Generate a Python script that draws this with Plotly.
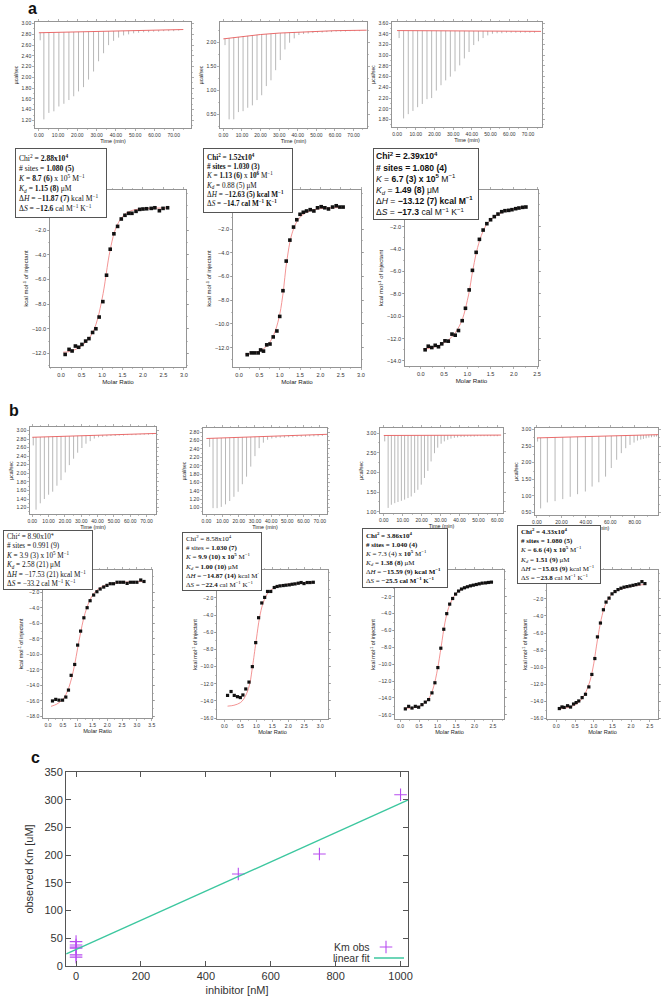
import plotly.graph_objects as go
import numpy as np

W, H = 661, 999

# ---------------- DATA ----------------
# panel a raw thermograms: injection times (min), peak values (ucal/sec), baseline
a1_inj_t = [0.7, 2.6, 5.2, 7.8, 10.4, 13.0, 15.6, 18.1, 20.6, 23.2, 25.8, 28.4, 31.0, 33.6, 36.2,
            38.8, 41.4, 44.0, 46.6, 49.2, 51.8, 54.4, 57.0, 59.6, 62.2, 64.8, 67.4, 70.0, 72.6]
a1_peak = [2.69, 1.22, 1.34, 1.37, 1.46, 1.51, 1.58, 1.65, 1.74, 1.82, 1.96, 2.11, 2.30, 2.45, 2.60,
           2.68, 2.74, 2.78, 2.80, 2.82, 2.83, 2.84, 2.84, 2.85, 2.85, 2.86, 2.86, 2.86, 2.87]
a1_base_t = [0, 75]
a1_base_y = [2.83, 2.89]

a2_inj_t = [0.9, 3.1, 5.6, 8.1, 10.6, 13.1, 15.6, 18.1, 20.6, 23.1, 25.6, 28.1, 30.6, 33.1, 35.6,
            38.1, 40.6, 43.1, 45.6, 48.1, 50.6, 53.1, 55.6, 58.1, 60.6, 63.1, 65.6, 68.1, 70.6, 73.1]
a2_peak = [1.94, 0.40, 0.40, 0.55, 0.57, 0.64, 0.69, 0.80, 0.90, 1.09, 1.21, 1.42, 1.63, 1.85, 1.99,
           2.08, 2.15, 2.17, 2.18, 2.19, 2.20, 2.20, 2.21, 2.21, 2.22, 2.22, 2.22, 2.23, 2.23, 2.23]
a2_base_t = [0, 10, 20, 30, 40, 50, 60, 77]
a2_base_y = [2.07, 2.12, 2.16, 2.19, 2.21, 2.23, 2.24, 2.25]

a3_inj_t = [1.1, 3.5, 6.0, 8.5, 11.0, 13.5, 16.0, 18.5, 21.0, 23.5, 26.0, 28.5, 31.0, 33.5, 36.0,
            38.5, 41.0, 43.5, 46.0, 48.5, 51.0, 53.5, 56.0, 58.5, 61.0, 63.5, 66.0, 68.5, 71.0, 73.5]
a3_peak = [3.32, 1.82, 1.90, 1.96, 2.03, 2.09, 2.18, 2.20, 2.34, 2.44, 2.53, 2.60, 2.70, 2.81, 2.94,
           3.06, 3.19, 3.26, 3.32, 3.37, 3.40, 3.41, 3.41, 3.42, 3.42, 3.42, 3.42, 3.42, 3.42, 3.42]
a3_base_t = [0, 77]
a3_base_y = [3.46, 3.445]

# panel b raw thermograms
b1_inj_t = [0.6, 2.3, 4.9, 7.4, 10.0, 12.5, 15.1, 17.6, 20.2, 22.7, 25.3, 27.8, 30.4, 32.9, 35.5,
            38.0, 40.6, 43.1, 45.7, 48.2, 50.8, 53.3, 55.9, 58.4, 61.0, 63.5, 66.1, 68.6, 71.2, 73.7]
b1_peak = [2.65, 1.15, 1.30, 1.40, 1.50, 1.57, 1.71, 1.84, 2.02, 2.19, 2.34, 2.48, 2.59, 2.69, 2.75,
           2.81, 2.84, 2.85, 2.86, 2.87, 2.87, 2.88, 2.88, 2.89, 2.89, 2.89, 2.90, 2.90, 2.90, 2.91]
b1_base_t = [0, 76]
b1_base_y = [2.84, 2.93]

b2_inj_t = [2.0, 4.1, 6.6, 9.2, 11.8, 14.4, 17.0, 19.6, 22.2, 24.8, 27.4, 30.0, 32.6, 35.2,
            37.8, 40.4, 43.0, 45.6, 48.2, 50.8, 53.4, 56.0, 58.6, 61.2, 63.8, 66.4, 69.0, 71.6]
b2_peak = [2.45, 0.99, 0.99, 1.02, 1.08, 1.16, 1.26, 1.38, 1.56, 1.74, 1.98, 2.23, 2.42, 2.55,
           2.62, 2.65, 2.66, 2.67, 2.67, 2.68, 2.68, 2.69, 2.69, 2.69, 2.70, 2.70, 2.70, 2.71]
b2_base_t = [0, 75]
b2_base_y = [2.65, 2.75]

b3_inj_t = [0.5, 2.3, 4.0, 5.8, 7.5, 9.3, 11.0, 12.8, 14.5, 16.3, 18.0, 19.8, 21.5, 23.3, 25.0,
            26.8, 28.5, 30.3, 32.0, 33.8, 35.5, 37.3, 39.0, 40.8, 42.5, 44.3, 46.0, 47.8, 49.5,
            51.3, 53.0, 54.8, 56.5, 58.3, 60.0]
b3_peak = [2.79, 1.10, 1.18, 1.22, 1.25, 1.28, 1.31, 1.35, 1.39, 1.48, 1.56, 1.69, 1.86, 2.04, 2.28,
           2.49, 2.63, 2.73, 2.79, 2.83, 2.86, 2.88, 2.89, 2.90, 2.90, 2.91, 2.91, 2.91, 2.92,
           2.92, 2.92, 2.92, 2.92, 2.92, 2.92]
b3_base_t = [0, 62]
b3_base_y = [2.94, 2.95]

b4_inj_t = [0.5, 3.0, 8.5, 14.8, 21.1, 27.2, 33.2, 39.6, 45.1, 50.6, 56.1, 60.8, 65.2, 69.0, 72.6,
            76.1, 79.4, 82.2, 84.9, 87.1, 89.3, 91.5, 93.7, 95.9, 97.8]
b4_peak = [2.64, 0.62, 0.80, 0.84, 0.90, 0.97, 1.05, 1.13, 1.28, 1.41, 1.58, 1.84, 2.09, 2.29, 2.44,
           2.54, 2.61, 2.67, 2.70, 2.72, 2.74, 2.76, 2.77, 2.78, 2.79]
b4_base_t = [0, 100]
b4_base_y = [2.75, 2.85]

# binding isotherms: molar ratio and kcal/mol of injectant
a1_mr = [0.10, 0.195, 0.27, 0.35, 0.43, 0.51, 0.60, 0.68, 0.77, 0.85, 0.93, 1.02, 1.11, 1.20, 1.29,
         1.38, 1.47, 1.56, 1.65, 1.73, 1.83, 1.92, 2.00, 2.09, 2.20, 2.29, 2.40, 2.49, 2.60]
a1_dh = [-12.08, -11.67, -11.8, -11.4, -11.5, -11.27, -11.0, -10.8, -10.3, -10.0, -9.05, -7.8, -5.66,
         -3.55, -2.3, -1.7, -1.1, -0.8, -0.64, -0.64, -0.48, -0.32, -0.29, -0.27, -0.24, -0.19, -0.43,
         -0.24, -0.19]
a1_fit_x = [0.05, 0.2, 0.4, 0.6, 0.7, 0.8, 0.9, 1.0, 1.05, 1.1, 1.15, 1.2, 1.3, 1.4, 1.5, 1.6, 1.8, 2.0, 2.3, 2.6]
a1_fit_y = [-11.9, -11.85, -11.6, -11.1, -10.7, -10.1, -9.1, -7.6, -6.7, -5.6, -4.5, -3.6, -2.2, -1.4,
            -0.9, -0.6, -0.35, -0.27, -0.22, -0.2]

a2_mr = [0.20, 0.30, 0.385, 0.47, 0.53, 0.60, 0.68, 0.76, 0.84, 0.93, 1.00, 1.08, 1.16, 1.25, 1.34,
         1.42, 1.50, 1.58, 1.66, 1.75, 1.84, 1.93, 2.02, 2.11, 2.20, 2.30, 2.39, 2.48, 2.56]
a2_dh = [-12.6, -12.45, -12.45, -12.45, -12.2, -12.3, -11.77, -11.7, -11.1, -10.6, -9.37, -7.2, -4.7,
         -2.93, -1.83, -1.21, -0.75, -0.58, -0.47, -0.36, -0.47, -0.2, -0.11, -0.2, -0.3, -0.14, -0.03,
         -0.14, -0.14]
a2_fit_x = [0.15, 0.3, 0.5, 0.6, 0.7, 0.8, 0.9, 1.0, 1.05, 1.1, 1.15, 1.2, 1.25, 1.3, 1.4, 1.5, 1.6,
            1.8, 2.0, 2.3, 2.6]
a2_fit_y = [-12.55, -12.5, -12.3, -12.1, -11.8, -11.3, -10.5, -9.2, -8.2, -6.9, -5.3, -4.1, -3.1, -2.4,
            -1.5, -1.0, -0.7, -0.4, -0.27, -0.2, -0.17]

a3_mr = [0.093, 0.16, 0.236, 0.31, 0.38, 0.45, 0.52, 0.59, 0.67, 0.74, 0.81, 0.89, 0.96, 1.04, 1.11,
         1.19, 1.26, 1.34, 1.42, 1.50, 1.58, 1.66, 1.74, 1.81, 1.89, 1.96, 2.04, 2.11, 2.19, 2.26]
a3_dh = [-13.0, -12.68, -12.8, -12.6, -12.73, -12.47, -12.2, -12.23, -11.6, -11.7, -11.28, -10.4, -9.29,
         -7.65, -5.9, -4.29, -3.13, -2.3, -1.73, -1.38, -1.1, -0.87, -0.66, -0.57, -0.54, -0.48, -0.39,
         -0.33, -0.27, -0.24]
a3_fit_x = [0.05, 0.2, 0.4, 0.6, 0.7, 0.8, 0.9, 1.0, 1.05, 1.1, 1.15, 1.2, 1.3, 1.4, 1.5, 1.6, 1.8, 2.0, 2.26]
a3_fit_y = [-12.95, -12.85, -12.6, -12.1, -11.7, -11.1, -10.2, -8.6, -7.6, -6.3, -5.2, -4.2, -2.8, -1.9,
            -1.4, -1.05, -0.65, -0.42, -0.25]

b1_mr = [0.15, 0.26, 0.37, 0.49, 0.60, 0.69, 0.78, 0.90, 1.00, 1.10, 1.21, 1.32, 1.42, 1.54, 1.65,
         1.76, 1.88, 1.99, 2.10, 2.21, 2.33, 2.44, 2.55, 2.67, 2.78, 2.89, 3.00, 3.13, 3.24]
b1_dh = [-16.0, -15.8, -15.9, -15.9, -15.5, -14.6, -12.7, -11.3, -8.8, -7.0, -5.28, -3.98, -3.08, -2.35,
         -1.92, -1.57, -1.32, -1.1, -0.89, -0.89, -0.7, -0.7, -0.7, -0.85, -0.7, -0.7, -0.7, -0.41, -0.6]
b1_fit_x = [0.1, 0.3, 0.5, 0.6, 0.7, 0.8, 0.9, 1.0, 1.1, 1.2, 1.3, 1.4, 1.5, 1.6, 1.8, 2.0, 2.4, 2.8, 3.25]
b1_fit_y = [-16.7, -16.4, -15.8, -15.2, -14.3, -13.0, -11.3, -9.2, -7.2, -5.4, -4.1, -3.1, -2.4, -1.9,
            -1.3, -1.0, -0.75, -0.65, -0.6]

b2_mr = [0.10, 0.21, 0.31, 0.41, 0.50, 0.58, 0.67, 0.77, 0.875, 0.98, 1.07, 1.17, 1.26, 1.35, 1.45,
         1.56, 1.65, 1.74, 1.84, 1.93, 2.03, 2.12, 2.21, 2.31, 2.40, 2.49, 2.59, 2.68, 2.78]
b2_dh = [-13.35, -12.9, -13.35, -13.5, -13.6, -13.3, -12.6, -11.8, -10.0, -7.2, -4.3, -2.58, -1.93,
         -1.24, -1.24, -0.78, -0.66, -0.59, -0.55, -0.51, -0.47, -0.4, -0.36, -0.28, -0.2, -0.32, -0.2,
         -0.2, -0.17]
b2_fit_x = [0.1, 0.3, 0.5, 0.6, 0.7, 0.8, 0.875, 0.9, 1.0, 1.1, 1.2, 1.3, 1.4, 1.6, 1.8, 2.2, 2.8]
b2_fit_y = [-14.6, -14.5, -14.2, -13.8, -13.1, -11.9, -10.1, -9.5, -6.8, -4.3, -2.7, -1.8, -1.25, -0.75,
            -0.5, -0.32, -0.18]

b3_mr = [0.13, 0.22, 0.31, 0.40, 0.49, 0.58, 0.67, 0.76, 0.85, 0.93, 1.01, 1.09, 1.17, 1.25, 1.33,
         1.41, 1.49, 1.57, 1.65, 1.73, 1.81, 1.89, 1.97, 2.05, 2.13, 2.21, 2.30, 2.38, 2.46]
b3_dh = [-15.3, -15.0, -15.2, -15.0, -15.1, -14.8, -14.5, -14.2, -13.4, -12.2, -10.4, -8.1, -5.85, -4.0,
         -2.87, -2.2, -1.68, -1.32, -1.08, -0.93, -0.81, -0.7, -0.62, -0.54, -0.46, -0.38, -0.35, -0.3,
         -0.26]
b3_fit_x = [0.1, 0.3, 0.5, 0.6, 0.7, 0.8, 0.9, 1.0, 1.1, 1.2, 1.3, 1.4, 1.5, 1.6, 1.8, 2.0, 2.2, 2.5]
b3_fit_y = [-15.2, -15.2, -15.0, -14.8, -14.4, -13.8, -12.6, -10.6, -7.9, -5.1, -3.3, -2.3, -1.6, -1.25,
            -0.85, -0.6, -0.42, -0.25]

b4_mr = [0.08, 0.15, 0.21, 0.30, 0.38, 0.46, 0.53, 0.60, 0.69, 0.78, 0.87, 0.95, 1.03, 1.10, 1.18,
         1.26, 1.33, 1.41, 1.49, 1.57, 1.65, 1.73, 1.81, 1.89, 1.97, 2.05, 2.13, 2.21, 2.29, 2.37]
b4_dh = [-14.83, -14.64, -14.7, -14.5, -14.65, -14.3, -14.13, -13.94, -13.55, -13.16, -12.3, -10.84,
         -8.98, -6.45, -4.83, -3.28, -2.38, -1.92, -1.42, -1.15, -0.92, -0.76, -0.64, -0.57, -0.5, -0.42,
         -0.34, -0.26, 0.01, -0.22]
b4_fit_x = [0.05, 0.2, 0.4, 0.6, 0.7, 0.8, 0.9, 1.0, 1.05, 1.1, 1.2, 1.3, 1.4, 1.5, 1.7, 2.0, 2.4]
b4_fit_y = [-14.9, -14.8, -14.6, -14.1, -13.6, -12.8, -11.6, -9.6, -8.2, -6.8, -4.4, -2.8, -1.9, -1.4,
            -0.9, -0.55, -0.3]

# panel c: observed Km vs inhibitor
c_inhibitor = [0, 0, 0, 0, 0, 0, 500, 750, 1000]
c_km_obs = [44, 38, 34, 32, 20, 16, 166, 202, 309]
c_fit_x = [-30, 1025]
c_fit_y = [21.7, 300.0]
c_legend_labels = ["Km obs", "linear fit"]

# fit-parameter text boxes
a1_text = ["Chi<sup>2</sup> = <b>2.88x10<sup>4</sup></b>", "# sites = <b>1.080 (5)</b>",
           "<i>K</i> = <b>8.7 (6)</b> x 10<sup>5</sup> M<sup>−1</sup>", "<i>K<sub>d</sub></i> = <b>1.15 (8)</b> μM",
           "Δ<i>H</i> = <b>−11.87 (7)</b> kcal M<sup>−1</sup>", "Δ<i>S</i> = <b>−12.6</b> cal M<sup>−1</sup> K<sup>−1</sup>"]
a2_text = ["<b>Chi<sup>2</sup> = 1.52x10<sup>4</sup></b>", "<b># sites = 1.030 (3)</b>",
           "<i>K</i> = <b>1.13 (6)</b> x <b>10<sup>6</sup></b> M<sup>−1</sup>", "<i>K<sub>d</sub></i> = 0.88 (5) μM",
           "Δ<i>H</i> = <b>−12.63 (5) kcal M<sup>−1</sup></b>", "Δ<i>S</i> = <b>−14.7 cal M<sup>−1</sup> K<sup>−1</sup></b>"]
a3_text = ["<b>Chi<sup>2</sup> = 2.39x10<sup>4</sup></b>", "<b># sites = 1.080 (4)</b>",
           "<i>K</i> = <b>6.7 (3) x 10<sup>5</sup></b> M<sup>−1</sup>", "<i>K<sub>d</sub></i> = <b>1.49 (8)</b> μM",
           "Δ<i>H</i> = <b>−13.12 (7) kcal M<sup>−1</sup></b>", "Δ<i>S</i> = <b>−17.3</b> cal M<sup>−1</sup> K<sup>−1</sup>"]
b1_text = ["Chi<sup>2</sup> = 8.90x10<sup>4</sup>", "# sites = 0.991 (9)",
           "<i>K</i> = 3.9 (3) x 10<sup>5</sup> M<sup>−1</sup>", "<i>K<sub>d</sub></i> = 2.58 (21) μM",
           "Δ<i>H</i> = −17.53 (21) kcal M<sup>−1</sup>", "Δ<i>S</i> = −33.2 cal M<sup>−1</sup> K<sup>−1</sup>"]
b2_text = ["Chi<sup>2</sup> = 8.58x10<sup>4</sup>", "# sites = <b>1.030 (7)</b>",
           "<i>K</i> = <b>9.9 (10) x 10<sup>5</sup></b> M<sup>−1</sup>", "<i>K<sub>d</sub></i> = <b>1.00 (10)</b> μM",
           "Δ<i>H</i> = <b>−14.87 (14)</b> kcal M<sup>−1</sup>", "Δ<i>S</i> = <b>−22.4</b> cal M<sup>−1</sup> K<sup>−1</sup>"]
b3_text = ["<b>Chi<sup>2</sup> = 3.86x10<sup>4</sup></b>", "<b># sites = 1.040 (4)</b>",
           "<i>K</i> = 7.3 (4) x <b>10<sup>5</sup></b> M<sup>−1</sup>", "<i>K<sub>d</sub></i> = <b>1.38 (8)</b> μM",
           "Δ<i>H</i> = <b>−15.59 (9) kcal M<sup>−1</sup></b>", "Δ<i>S</i> = <b>−25.5 cal M<sup>−1</sup> K<sup>−1</sup></b>"]
b4_text = ["<b>Chi<sup>2</sup> = 4.33x10<sup>4</sup></b>", "<b># sites = 1.080 (5)</b>",
           "<i>K</i> = <b>6.6 (4) x 10<sup>5</sup></b> M<sup>−1</sup>", "<i>K<sub>d</sub></i> = <b>1.51 (9)</b> μM",
           "Δ<i>H</i> = <b>−15.03 (9)</b> kcal M<sup>−1</sup>", "Δ<i>S</i> = <b>−23.8</b> cal M<sup>−1</sup> K<sup>−1</sup>"]

# ---------------- LAYOUT (pixel boxes: left, top, right, bottom) ----------------
raw_panels = [
    # data, box, xrange, yrange, xdtick, ydtick
    ((a1_inj_t, a1_peak, a1_base_t, a1_base_y), (35, 22, 191, 128), [-2, 79], [1.06, 3.03], 10, 0.2),
    ((a2_inj_t, a2_peak, a2_base_t, a2_base_y), (220, 22, 367, 128), [-1.8, 77.2], [0.22, 2.42], 10, 0.5),
    ((a3_inj_t, a3_peak, a3_base_t, a3_base_y), (392, 22, 542, 127), [-2.7, 77.5], [1.66, 3.62], 10, 0.2),
    ((b1_inj_t, b1_peak, b1_base_t, b1_base_y), (30, 427, 156, 514), [-1.4, 75.8], [1.05, 3.08], 10, 0.2),
    ((b2_inj_t, b2_peak, b2_base_t, b2_base_y), (203, 428, 327, 514), [-2.1, 74.5], [0.85, 2.9], 10, 0.2),
    ((b3_inj_t, b3_peak, b3_base_t, b3_base_y), (380, 428, 503, 513), [-2, 63], [0.97, 3.13], 10, 0.5),
    ((b4_inj_t, b4_peak, b4_base_t, b4_base_y), (535, 428, 658, 515), [-1.6, 99], [0.42, 3.05], 20, 0.5),
]
iso_panels = [
    ((a1_mr, a1_dh, a1_fit_x, a1_fit_y), (50, 190, 186, 367), [-0.27, 3.05], [-13.1, 1.25], -12, 3.6, 5.6),
    ((a2_mr, a2_dh, a2_fit_x, a2_fit_y), (233, 190, 361, 367), [-0.15, 3.0], [-13.64, 1.3], -12, 3.6, 5.6),
    ((a3_mr, a3_dh, a3_fit_x, a3_fit_y), (405, 190, 538, 366), [-0.34, 2.52], [-14.45, 1.28], -14, 3.6, 5.6),
    ((b1_mr, b1_dh, b1_fit_x, b1_fit_y), (43, 570, 152, 718), [-0.17, 3.51], [-18.2, 0.88], -18, 3.2, 5.0),
    ((b2_mr, b2_dh, b2_fit_x, b2_fit_y), (217, 570, 328, 719), [-0.23, 3.24], [-16.1, 1.26], -16, 3.2, 5.0),
    ((b3_mr, b3_dh, b3_fit_x, b3_fit_y), (395, 570, 504, 719), [-0.15, 2.8], [-16.5, 1.18], -16, 3.2, 5.0),
    ((b4_mr, b4_dh, b4_fit_x, b4_fit_y), (547, 570, 658, 719), [-0.25, 2.72], [-16.05, 1.37], -16, 3.2, 5.0),
]
text_boxes = [
    (a1_text, (15, 148, 107, 218), 7.6, "Liberation Serif"),
    (a2_text, (203, 148, 293, 213), 7.2, "Liberation Serif"),
    (a3_text, (373, 148, 479, 220), 8.6, "Liberation Sans"),
    (b1_text, (3, 530, 93, 590), 7.2, "Liberation Serif"),
    (b2_text, (182, 532, 262, 591), 7.0, "Liberation Serif"),
    (b3_text, (362, 528, 448, 588), 7.0, "Liberation Serif"),
    (b4_text, (517, 525, 601, 584), 7.0, "Liberation Serif"),
]
c_box = (66, 772, 408, 966)

FONT = "Liberation Sans"
AX = "#7a7a7a"


def dom(box):
    l, t, r, b = box
    return [l / W, r / W], [1 - b / H, 1 - t / H]


def itc_axis(domain, rng, fs, title, tfs, anchor, **tick):
    return dict(domain=domain, range=rng, anchor=anchor,
                showgrid=False, zeroline=False, showline=True, linecolor=AX, linewidth=0.8,
                mirror="ticks", ticks="outside", ticklen=2, tickwidth=0.6, tickcolor=AX,
                tickfont=dict(size=fs, color="#333", family=FONT),
                title=dict(text=title, font=dict(size=tfs, color="#222", family=FONT), standoff=2),
                **tick)


fig = go.Figure()
layout = {}
k = 0
for (t, pk, bt, by), box, xr, yr, xd, yd in raw_panels:
    k += 1
    xa = "x" if k == 1 else f"x{k}"
    ya = "y" if k == 1 else f"y{k}"
    top = np.interp(t, bt, by)
    xs, ys = [], []
    for ti, pi, tp in zip(t, pk, top):
        xs += [ti, ti, None]
        ys += [tp, pi, None]
    fig.add_trace(go.Scatter(x=xs, y=ys, mode="lines", line=dict(color="#9a9a9a", width=0.7),
                             xaxis=xa, yaxis=ya, showlegend=False, hoverinfo="skip"))
    fig.add_trace(go.Scatter(x=bt, y=by, mode="lines", line=dict(color="#e85a5a", width=0.9),
                             xaxis=xa, yaxis=ya, showlegend=False, hoverinfo="skip"))
    dx, dy = dom(box)
    layout["xaxis" if k == 1 else f"xaxis{k}"] = itc_axis(
        dx, xr, 5, "Time (min)", 5.4, ya, dtick=xd, tick0=0, tickformat=".2f",
        minor=dict(dtick=xd / 2, ticks="outside", ticklen=1, tickcolor="#999"))
    layout["yaxis" if k == 1 else f"yaxis{k}"] = itc_axis(
        dy, yr, 5, "µcal/sec", 5, xa, dtick=yd, tick0=0, tickformat=".2f",
        minor=dict(dtick=yd / 2, ticks="outside", ticklen=1, tickcolor="#999"))

for (mr, dh, fx, fy), box, xr, yr, ylow, msize, fs in iso_panels:
    k += 1
    xa, ya = f"x{k}", f"y{k}"
    fig.add_trace(go.Scatter(x=fx, y=fy, mode="lines", line=dict(color="#f07a7a", width=0.8, shape="spline"),
                             xaxis=xa, yaxis=ya, showlegend=False, hoverinfo="skip"))
    fig.add_trace(go.Scatter(x=mr, y=dh, mode="markers", marker=dict(symbol="square", size=msize, color="#111"),
                             xaxis=xa, yaxis=ya, showlegend=False, hoverinfo="skip"))
    dx, dy = dom(box)
    yv = list(range(ylow, 0, 2))
    yt = [f"{v:.1f}".replace("-", "\u2212") for v in yv]
    layout[f"xaxis{k}"] = itc_axis(dx, xr, fs, "Molar Ratio", fs + 0.6, ya, dtick=0.5, tick0=0,
                                   tickformat=".1f",
                                   minor=dict(dtick=0.25, ticks="outside", ticklen=1, tickcolor="#999"))
    layout[f"yaxis{k}"] = itc_axis(dy, yr, fs, "kcal mol<sup>-1</sup> of injectant", fs + 0.4, xa,
                                   tickmode="array", tickvals=yv, ticktext=yt,
                                   minor=dict(dtick=1, ticks="outside", ticklen=1, tickcolor="#999"))

# panel c
k += 1
xa, ya = f"x{k}", f"y{k}"
fig.add_trace(go.Scatter(x=c_inhibitor, y=c_km_obs, mode="markers", name=" ", legend="legend",
                         marker=dict(symbol="cross-thin", size=9, color="#b84cf0",
                                     line=dict(width=1.1, color="#b84cf0")),
                         xaxis=xa, yaxis=ya, hoverinfo="skip"))
fig.add_trace(go.Scatter(x=c_fit_x, y=c_fit_y, mode="lines", name=" ", legend="legend2",
                         line=dict(color="#3cc79f", width=1.4), xaxis=xa, yaxis=ya, hoverinfo="skip"))
dx, dy = dom(c_box)
cax = dict(showgrid=False, zeroline=False, showline=True, linecolor="#555", linewidth=1, mirror="ticks",
           ticks="inside", ticklen=5, tickcolor="#555", tickfont=dict(size=11, color="#333", family=FONT))
layout[f"xaxis{k}"] = dict(cax, domain=dx, range=[-31, 1023], dtick=200, tick0=0, anchor=ya,
                           title=dict(text="inhibitor [nM]", font=dict(size=11, color="#333", family=FONT), standoff=5))
layout[f"yaxis{k}"] = dict(cax, domain=dy, range=[0, 350], dtick=50, tick0=0, anchor=xa,
                           title=dict(text="observed Km [uM]", font=dict(size=11, color="#333", family=FONT), standoff=8))

annotations = []
for lines, box, fsz, fam in text_boxes:
    l, t, r, b = box
    pad, bw = 2, 1
    annotations.append(dict(x=l / W, y=1 - t / H, xref="paper", yref="paper", xanchor="left", yanchor="top",
                            text="<br>".join(lines), showarrow=False, align="left", valign="middle",
                            width=r - l - 2 * pad - 2 * bw, height=b - t - 2 * pad - 2 * bw,
                            bordercolor="#555", borderwidth=bw, borderpad=pad, bgcolor="white",
                            font=dict(size=fsz, family=fam, color="#111")))
for letter, px, py in [("a", 32, 8), ("b", 14, 411), ("c", 35, 757)]:
    annotations.append(dict(x=px / W, y=1 - py / H, xref="paper", yref="paper", xanchor="center", yanchor="middle",
                            text=f"<b>{letter}</b>", showarrow=False,
                            font=dict(size=16, family=FONT, color="#111")))
# legend labels (gnuplot style: text left of the sample)
for lab, py in zip(c_legend_labels, [947, 958]):
    annotations.append(dict(x=372 / W, y=1 - py / H, xref="paper", yref="paper", xanchor="right", yanchor="middle",
                            text=lab, showarrow=False, font=dict(size=10.5, family=FONT, color="#333")))

leg = dict(xanchor="left", yanchor="middle", bgcolor="rgba(0,0,0,0)", borderwidth=0,
           font=dict(size=2, family=FONT, color="#333"), itemwidth=30, tracegroupgap=0)

fig.update_layout(
    template="none", width=W, height=H, autosize=False,
    margin=dict(l=0, r=0, t=0, b=0, pad=0),
    paper_bgcolor="white", plot_bgcolor="white",
    showlegend=True,
    legend=dict(leg, x=366 / W, y=1 - 947 / H),
    legend2=dict(leg, x=369 / W, y=1 - 958 / H),
    annotations=annotations,
    **layout,
)

fig.write_html("out.html", config={"displayModeBar": False, "staticPlot": True},
               post_script="document.body.style.margin='0px';document.body.style.overflow='hidden';")
